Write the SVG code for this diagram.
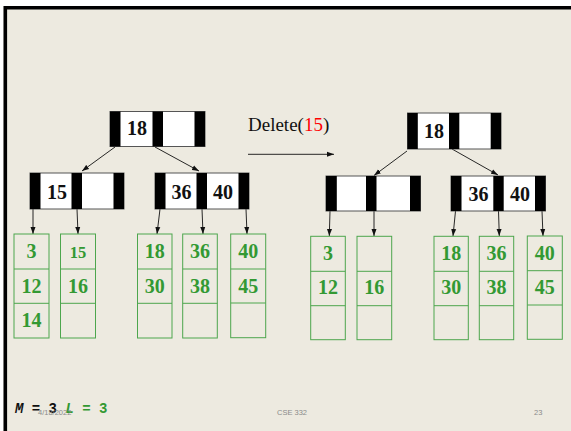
<svg xmlns="http://www.w3.org/2000/svg" width="571" height="431" viewBox="0 0 571 431">
<style>
.bg{fill:#EDEAE0}
.nbox{fill:#FFFFFF;stroke:#555;stroke-width:1}
.bar{fill:#000}
.nt{font-family:"Liberation Serif",serif;font-weight:bold;font-size:20px;fill:#111;text-anchor:middle}
.leaf{fill:none;stroke:#4DA64D;stroke-width:1}
.lt{font-family:"Liberation Serif",serif;font-weight:bold;font-size:20px;fill:#339933;text-anchor:middle}
.con{stroke:#111;stroke-width:0.9;fill:none;marker-end:url(#ah)}
.foot{font-family:"Liberation Sans",sans-serif;font-size:7.5px;fill:#8A8A8A}
</style>
<defs>
<marker id="ah" markerUnits="userSpaceOnUse" markerWidth="7" markerHeight="6" refX="7" refY="3" orient="auto">
<path d="M0,0.5 L7,3 L0,5.5 z" fill="#111"/>
</marker>
</defs>
<rect x="0" y="0" width="571" height="431" fill="#FFFFFF"/>
<rect class="bg" x="3.5" y="6" width="567.5" height="425"/>
<path d="M3.5,7.8 H571 M5.3,6 V431" stroke="#000" stroke-width="3.6" fill="none"/>

<g id="connectors">
<line class="con" x1="115" y1="147" x2="82" y2="171"/>
<line class="con" x1="155" y1="147" x2="199" y2="171"/>
<line class="con" x1="33" y1="209" x2="33" y2="234"/>
<line class="con" x1="77" y1="209" x2="78" y2="234"/>
<line class="con" x1="160" y1="209" x2="157" y2="234"/>
<line class="con" x1="202" y1="209" x2="203" y2="234"/>
<line class="con" x1="246" y1="209" x2="247" y2="234"/>
<line class="con" x1="407" y1="151" x2="374" y2="175.5"/>
<line class="con" x1="452" y1="149" x2="498" y2="175"/>
<line class="con" x1="330" y1="211" x2="329.3" y2="236"/>
<line class="con" x1="374" y1="211" x2="374" y2="236"/>
<line class="con" x1="455.5" y1="211" x2="453" y2="236"/>
<line class="con" x1="498.5" y1="211" x2="499.3" y2="236"/>
<line class="con" x1="542" y1="211" x2="543" y2="236"/>
<line class="con" x1="248" y1="154.3" x2="334" y2="154.3"/>
</g>

<g id="delete-label">
<text x="248" y="131" font-family="Liberation Serif,serif" font-size="19px" fill="#111">Delete(<tspan fill="#FF0000">15</tspan>)</text>
</g>

<!-- Left tree -->
<g id="L-root">
<rect class="nbox" x="110" y="111.5" width="95" height="35"/>
<rect class="bar" x="110" y="111.5" width="10.5" height="35"/>
<rect class="bar" x="152.5" y="111.5" width="10.5" height="35"/>
<rect class="bar" x="194.5" y="111.5" width="10.5" height="35"/>
<text class="nt" x="137" y="135">18</text>
</g>
<g id="L-child1">
<rect class="nbox" x="30" y="173" width="94" height="36"/>
<rect class="bar" x="30" y="173" width="10.5" height="36"/>
<rect class="bar" x="71.5" y="173" width="10.5" height="36"/>
<rect class="bar" x="113.5" y="173" width="10.5" height="36"/>
<text class="nt" x="57" y="199">15</text>
</g>
<g id="L-child2">
<rect class="nbox" x="155" y="173" width="94" height="36"/>
<rect class="bar" x="155" y="173" width="10.5" height="36"/>
<rect class="bar" x="196.5" y="173" width="10.5" height="36"/>
<rect class="bar" x="238.5" y="173" width="10.5" height="36"/>
<text class="nt" x="181.5" y="199">36</text>
<text class="nt" x="223" y="199">40</text>
</g>
<g id="L-leaf1">
<rect class="leaf" x="14" y="234" width="35" height="104"/>
<path class="leaf" d="M14,269 H49 M14,303.3 H49"/>
<text class="lt" x="31.5" y="258">3</text>
<text class="lt" x="31.5" y="292.5">12</text>
<text class="lt" x="31.5" y="327">14</text>
</g>
<g id="L-leaf2">
<rect class="leaf" x="60.5" y="234" width="35" height="104"/>
<path class="leaf" d="M60.5,269 H95.5 M60.5,303.3 H95.5"/>
<text class="lt" x="78" y="257.5" style="font-size:16.5px">15</text>
<text class="lt" x="78" y="292.5">16</text>
</g>
<g id="L-leaf3">
<rect class="leaf" x="137.5" y="234" width="34.5" height="104"/>
<path class="leaf" d="M137.5,269 H172 M137.5,303.3 H172"/>
<text class="lt" x="154.7" y="258">18</text>
<text class="lt" x="154.7" y="292.5">30</text>
</g>
<g id="L-leaf4">
<rect class="leaf" x="182.7" y="234" width="34.6" height="104"/>
<path class="leaf" d="M182.7,269 H217.3 M182.7,303.3 H217.3"/>
<text class="lt" x="200" y="258">36</text>
<text class="lt" x="200" y="292.5">38</text>
</g>
<g id="L-leaf5">
<rect class="leaf" x="230.7" y="234" width="35" height="103.7"/>
<path class="leaf" d="M230.7,269 H265.7 M230.7,303 H265.7"/>
<text class="lt" x="248.2" y="258">40</text>
<text class="lt" x="248.2" y="292.5">45</text>
</g>

<!-- Right tree -->
<g id="R-root">
<rect class="nbox" x="407.5" y="113" width="93.5" height="36"/>
<rect class="bar" x="407.5" y="113" width="10.3" height="36"/>
<rect class="bar" x="449" y="113" width="10.3" height="36"/>
<rect class="bar" x="490.7" y="113" width="10.3" height="36"/>
<text class="nt" x="434" y="137.5">18</text>
</g>
<g id="R-child1">
<rect class="nbox" x="326" y="176" width="94.5" height="35"/>
<rect class="bar" x="326" y="176" width="10.8" height="35"/>
<rect class="bar" x="366" y="176" width="10.5" height="35"/>
<rect class="bar" x="410" y="176" width="10.5" height="35"/>
</g>
<g id="R-child2">
<rect class="nbox" x="451" y="176" width="94.5" height="35"/>
<rect class="bar" x="451" y="176" width="10.5" height="35"/>
<rect class="bar" x="493.3" y="176" width="10.4" height="35"/>
<rect class="bar" x="535" y="176" width="10.5" height="35"/>
<text class="nt" x="478.5" y="200.5">36</text>
<text class="nt" x="520" y="200.5">40</text>
</g>
<g id="R-leaf1">
<rect class="leaf" x="310.7" y="236.3" width="34.6" height="103.4"/>
<path class="leaf" d="M310.7,271.3 H345.3 M310.7,305.7 H345.3"/>
<text class="lt" x="328" y="260">3</text>
<text class="lt" x="328" y="294">12</text>
</g>
<g id="R-leaf2">
<rect class="leaf" x="357" y="236.3" width="34.7" height="103.4"/>
<path class="leaf" d="M357,271.3 H391.7 M357,305.7 H391.7"/>
<text class="lt" x="374.3" y="294">16</text>
</g>
<g id="R-leaf3">
<rect class="leaf" x="434" y="236.3" width="34.3" height="103.4"/>
<path class="leaf" d="M434,271.3 H468.3 M434,305.7 H468.3"/>
<text class="lt" x="451.2" y="260">18</text>
<text class="lt" x="451.2" y="294">30</text>
</g>
<g id="R-leaf4">
<rect class="leaf" x="479.3" y="236.3" width="34.4" height="103.4"/>
<path class="leaf" d="M479.3,271.3 H513.7 M479.3,305.7 H513.7"/>
<text class="lt" x="496.5" y="260">36</text>
<text class="lt" x="496.5" y="294">38</text>
</g>
<g id="R-leaf5">
<rect class="leaf" x="527.3" y="236" width="35" height="103.3"/>
<path class="leaf" d="M527.3,270.7 H562.3 M527.3,305 H562.3"/>
<text class="lt" x="544.8" y="260">40</text>
<text class="lt" x="544.8" y="294">45</text>
</g>

<g id="footer">
<text x="15" y="412.5" font-family="Liberation Mono,monospace" font-weight="bold" font-size="14px" fill="#111"><tspan font-style="italic">M</tspan> = 3 <tspan fill="#339933"><tspan font-style="italic">L</tspan> = 3</tspan></text>
<text class="foot" x="38" y="415">4/18/2022</text>
<text class="foot" x="277" y="415">CSE 332</text>
<text class="foot" x="534" y="415">23</text>
</g>
</svg>
